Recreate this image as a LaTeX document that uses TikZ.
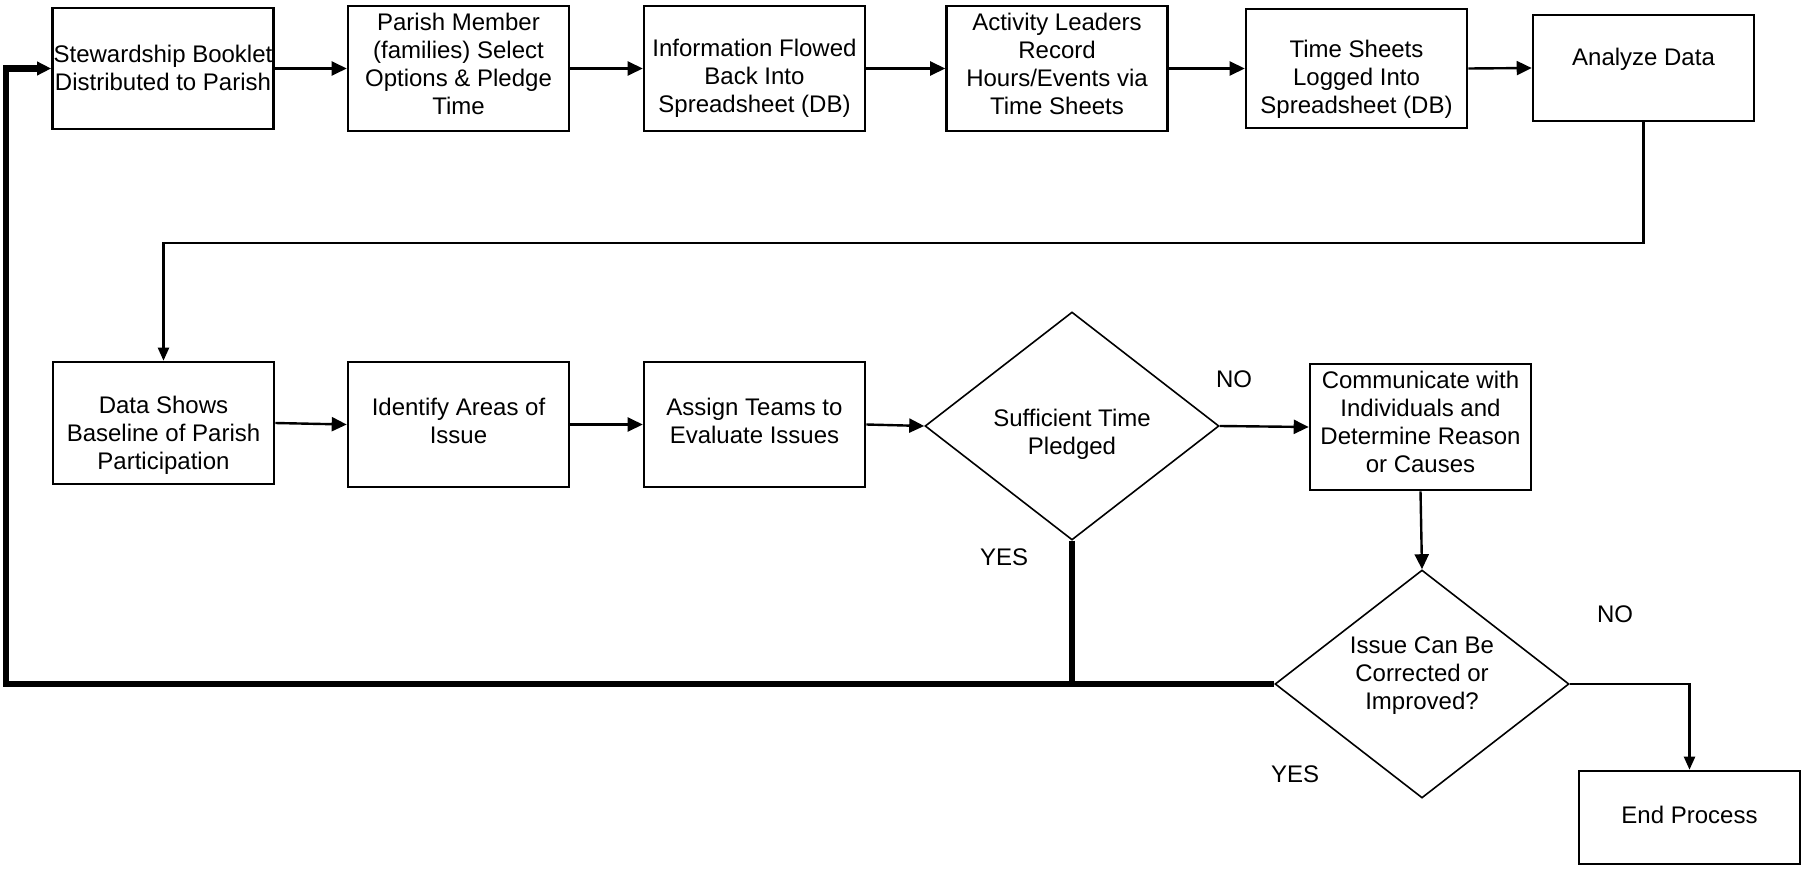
\documentclass[tikz,border=0pt]{standalone}
\usepackage{fontspec}
\setmainfont{Liberation Sans}
\usetikzlibrary{arrows.meta,shapes.geometric,calc}
\tikzset{
  procbox/.style={draw, line width=2.6pt, minimum width=221pt, inner sep=0pt},
  decbox/.style={draw, diamond, line width=1.6pt, minimum width=294pt, minimum height=228pt, inner sep=0pt},
  txt/.style={align=center, font=\fontsize{24}{28}\selectfont, inner sep=0pt},
  lbl/.style={font=\fontsize{24}{28}\selectfont, inner sep=0pt},
  flow/.style={line width=2.4pt, -{Triangle[length=15pt,width=14pt]}},
  thinflow/.style={line width=2.2pt, -{Triangle[length=13pt,width=11pt]}},
  back/.style={line width=6.5pt},
  backarrow/.style={line width=6.5pt, -{Triangle[length=14pt,width=13pt]}, line cap=butt}
}
\begin{document}
\begin{tikzpicture}[x=1pt,y=-1pt]
\useasboundingbox (0,0) rectangle (1806,872);
% row 1 boxes
\node[procbox, minimum height=121pt] (b1) at (163,68.5) {};
\node[procbox, minimum height=125pt] (b2) at (458.5,68.5) {};
\node[procbox, minimum height=125pt] (b3) at (754.5,68.5) {};
\node[procbox, minimum height=125pt] (b4) at (1057,68.5) {};
\node[procbox, minimum height=119pt] (b5) at (1356.5,68.5) {};
\node[procbox, minimum height=106pt] (b6) at (1643.5,68) {};
% row 2
\node[procbox, minimum height=122pt] (b7) at (163.5,423) {};
\node[procbox, minimum height=125pt] (b8) at (458.5,424.5) {};
\node[procbox, minimum height=125pt] (b9) at (754.5,424.5) {};
\node[decbox] (d1) at (1072,426) {};
\node[procbox, minimum height=126pt] (b10) at (1420.5,427) {};
\node[decbox] (d2) at (1422,684) {};
\node[procbox, minimum height=93pt] (b11) at (1689.5,817.5) {};
% texts
\node[txt] (t1) at ($(b1.center)+(0,-1)$) {Stewardship Booklet\\Distributed to Parish};
\node[txt] (t2) at ($(b2.center)+(0,-5)$) {Parish Member\\(families) Select\\Options \& Pledge\\Time};
\node[txt] (t3) at ($(b3.center)+(0,10)$) {Information Flowed\\Back Into\\Spreadsheet (DB)};
\node[txt] (t4) at ($(b4.center)+(0,-5)$) {Activity Leaders\\Record\\Hours/Events via\\Time Sheets};
\node[txt] (t5) at ($(b5.center)+(0,11)$) {Time Sheets\\Logged Into\\Spreadsheet (DB)};
\node[txt] (t6) at ($(b6.center)+(0,-9)$) {Analyze Data};
\node[txt] (t7) at ($(b7.center)+(0,12)$) {Data Shows\\Baseline of Parish\\Participation};
\node[txt] (t8) at ($(b8.center)+(0,-4)$) {Identify Areas of\\Issue};
\node[txt] (t9) at ($(b9.center)+(0,-4)$) {Assign Teams to\\Evaluate Issues};
\node[txt] (td1) at ($(d1.center)+(0,8)$) {Sufficient Time\\Pledged};
\node[txt] (t10) at ($(b10.center)+(0,-5)$) {Communicate with\\Individuals and\\Determine Reason\\or Causes};
\node[txt] (td2) at ($(d2.center)+(0,-8)$) {Issue Can Be\\Corrected or\\Improved?};
\node[txt] (t11) at ($(b11.center)+(0,-3)$) {End Process};
% labels
\node[lbl] (no1) at (1234,379) {NO};
\node[lbl] (yes1) at (1004,557) {YES};
\node[lbl] (no2) at (1615,614) {NO};
\node[lbl] (yes2) at (1295,774) {YES};
% row 1 flow
\draw[flow] (b1.east) -- (b2.west);
\draw[flow] (b2.east) -- (b3.west);
\draw[flow] (b3.east) -- (b4.west);
\draw[flow] (b4.east) -- (b5.west);
\draw[flow] (b5.east) -- (b6.west);
\draw[thinflow] (b6.south) -- ++(0,121) -| (b7.north);
% row 2 flow
\draw[flow] (b7.east) -- (b8.west);
\draw[flow] (b8.east) -- (b9.west);
\draw[flow] (b9.east) -- (d1.west);
\draw[flow] (d1.east) -- (b10.west);
\draw[flow] (b10.south) -- (d2.north);
\draw[thinflow] (d2.east) -| (b11.north);
% feedback
\coordinate (fb) at (6,684);
\coordinate (fj) at (1072,684);
\draw[back] (d1.south) -- (fj);
\draw[backarrow] (d2.west) -- (fb) |- (b1.west);
\end{tikzpicture}
\end{document}
